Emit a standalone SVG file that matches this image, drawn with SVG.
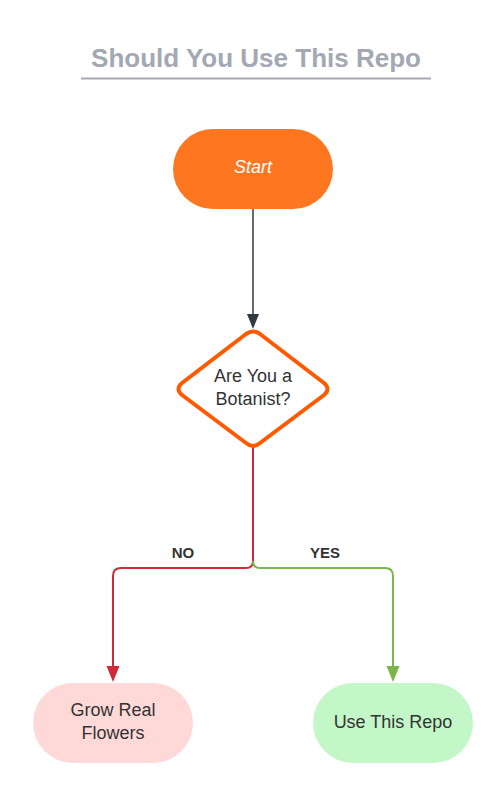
<svg xmlns="http://www.w3.org/2000/svg" width="503" height="804" viewBox="0 0 503 804">
<style>
text{font-family:"Liberation Sans",Arial,sans-serif;}
.lbl{font-size:18px;fill:#333333;text-anchor:middle;}
.edge{font-size:15px;font-weight:bold;fill:#333333;text-anchor:middle;}
</style>
<rect width="503" height="804" fill="#ffffff"/>
<g id="title">
<text x="256" y="67" text-anchor="middle" font-size="26" font-weight="bold" fill="#a3a8b3">Should You Use This Repo</text>
<line x1="81" y1="78.5" x2="431" y2="78.5" stroke="#a3a8b3" stroke-width="2"/>
</g>
<g id="connectors" fill="none" stroke-width="2">
<path d="M253,209 V314" stroke="#333a45" stroke-width="1.5"/>
<path d="M247,314 L259,314 L253,329 Z" fill="#333a45" stroke="none"/>
<path d="M253,447 V561 Q253,568 246,568 H121 Q113,568 113,576 V667" stroke="#d0293a"/>
<path d="M106.5,666 L119.5,666 L113,682 Z" fill="#d0293a" stroke="none"/>
<path d="M253,561 Q253,568 260,568 H385 Q393,568 393,576 V667" stroke="#7ab648"/>
<path d="M386.5,666 L399.5,666 L393,682 Z" fill="#7ab648" stroke="none"/>
<text class="edge" x="183" y="558" stroke="none">NO</text>
<text class="edge" x="325" y="558" stroke="none">YES</text>
</g>
<g id="start">
<rect x="173" y="129" width="160" height="80" rx="40" fill="#fe761f"/>
<text x="253" y="173" text-anchor="middle" font-size="18" font-style="italic" fill="#ffffff">Start</text>
</g>
<g id="botanist">
<path d="M246,334 Q253,329 260,334 L324,383 Q331,389 324,395 L260,443 Q253,449 246,443 L182,395 Q175,389 182,383 Z" fill="#ffffff" stroke="#ff5a00" stroke-width="4" stroke-linejoin="round"/>
<text class="lbl" x="253" y="382">Are You a</text>
<text class="lbl" x="253" y="405">Botanist?</text>
</g>
<g id="grow">
<rect x="33" y="683" width="160" height="80" rx="40" fill="#ffd8d8"/>
<text class="lbl" x="113" y="716">Grow Real</text>
<text class="lbl" x="113" y="739">Flowers</text>
</g>
<g id="use">
<rect x="313" y="683" width="160" height="80" rx="40" fill="#c3f7c8"/>
<text class="lbl" x="393" y="728">Use This Repo</text>
</g>
</svg>
